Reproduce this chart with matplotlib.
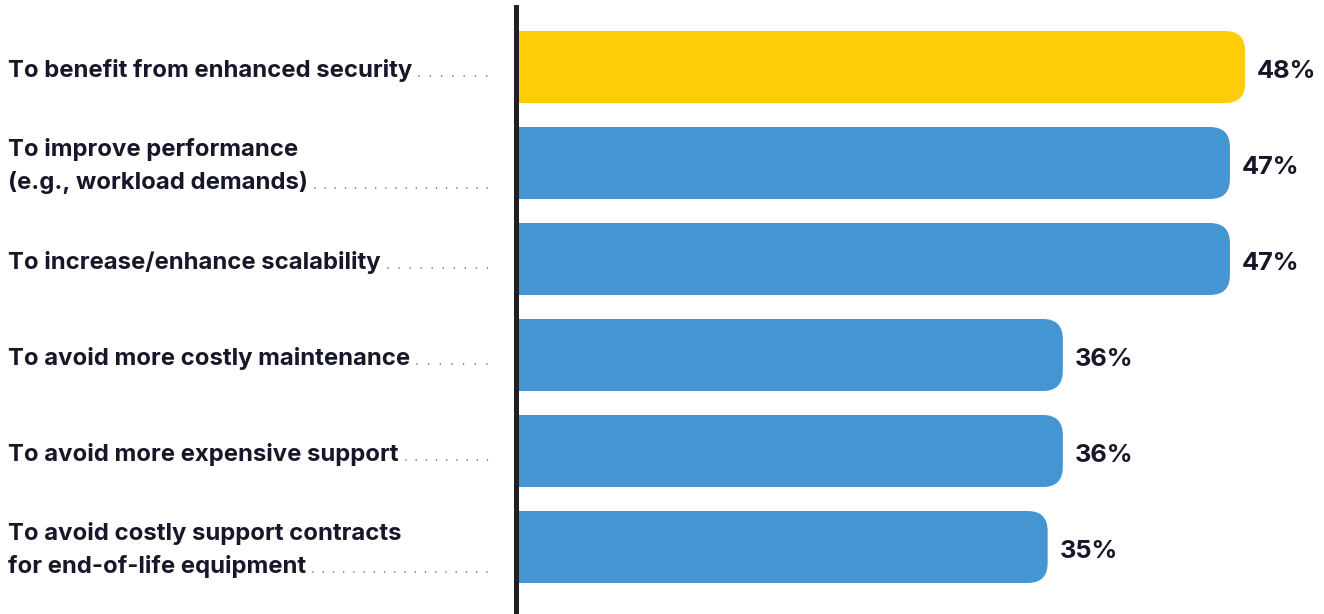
import matplotlib
matplotlib.use("Agg")
import math
import matplotlib.pyplot as plt
from matplotlib.patches import FancyBboxPatch, Rectangle
from matplotlib.lines import Line2D
import matplotlib.transforms as mtransforms

plt.rcParams['font.family'] = ['Inter', 'DejaVu Sans']
plt.rcParams['lines.scale_dashes'] = False

labels = [
    ["To benefit from enhanced security"],
    ["To improve performance", "(e.g., workload demands)"],
    ["To increase/enhance scalability"],
    ["To avoid more costly maintenance"],
    ["To avoid more expensive support"],
    ["To avoid costly support contracts", "for end-of-life equipment"],
]
values = [48, 47, 47, 36, 36, 35]
colors = ["#FECC09", "#4396D1", "#4396D1", "#4396D1", "#4396D1", "#4396D1"]

W, H, DPI = 1324, 614, 100
fig = plt.figure(figsize=(W / DPI, H / DPI), dpi=DPI)
x0_px = 516
px_per_unit_x = 15.19
px_per_row = 96
first_center_px = 67

ax = fig.add_axes([x0_px / W, 0, (W - x0_px) / W, 1])
ax.set_xlim(0, (W - x0_px) / px_per_unit_x)
top = -first_center_px / px_per_row
bottom = (H - first_center_px) / px_per_row
ax.set_ylim(bottom, top)
ax.set_xticks([]); ax.set_yticks([])
for s in ['top', 'right', 'bottom']:
    ax.spines[s].set_visible(False)
ax.spines['left'].set_linewidth(5 * 72 / DPI)
ax.spines['left'].set_color('#231f20')
ax.spines['left'].set_bounds(top + 7 / px_per_row, bottom)
ax.spines['left'].set_zorder(5)
ax.patch.set_alpha(0)

text_color = '#17172a'
bar_h = 72 / px_per_row
r = 20 / px_per_unit_x
asp = px_per_unit_x / px_per_row

for i, (v, c) in enumerate(zip(values, colors)):
    ax.add_patch(FancyBboxPatch((0, i - bar_h / 2), v, bar_h,
                                boxstyle=f"round,pad=0,rounding_size={r}",
                                mutation_aspect=asp, fc=c, ec='none', zorder=2))
    ax.add_patch(Rectangle((0, i - bar_h / 2), v / 2, bar_h, fc=c, ec='none', zorder=2))
    ax.text(v + 12 / px_per_unit_x, i + 11.5 / px_per_row, f"{v}%", fontsize=18.3,
            fontweight='bold', color=text_color, va='baseline', ha='left')

trans = mtransforms.blended_transform_factory(fig.transFigure, ax.transData)
last_texts = []
for i, lines in enumerate(labels):
    if len(lines) == 1:
        ys = [i + 10 / px_per_row]
    else:
        ys = [i - 7 / px_per_row, i + 26 / px_per_row]
    t = None
    for line, y in zip(lines, ys):
        t = fig.text(8 / W, 0, line, transform=trans, fontsize=17.2, fontweight='bold',
                     color=text_color, va='baseline', ha='left')
        t.set_position((8 / W, y))
    last_texts.append((t, ys[-1]))

fig.canvas.draw()
renderer = fig.canvas.get_renderer()
for t, y in last_texts:
    bb = t.get_window_extent(renderer)
    x_start = bb.x1 + 7
    x_end = 487
    n = int(math.floor((x_end - x_start) / 10.0)) + 1
    gap_px = (x_end - x_start) / max(n - 1, 1)
    line = Line2D([x_start / W, (x_end + 3) / W], [y - 1.2 / px_per_row] * 2, transform=trans,
                  color='#555560', linewidth=1.6 * 72 / DPI,
                  linestyle=(0, (0.01, (gap_px - 0.01 * DPI / 72) * 72 / DPI)),
                  dash_capstyle='round')
    fig.add_artist(line)

fig.savefig("out.png", dpi=DPI)
